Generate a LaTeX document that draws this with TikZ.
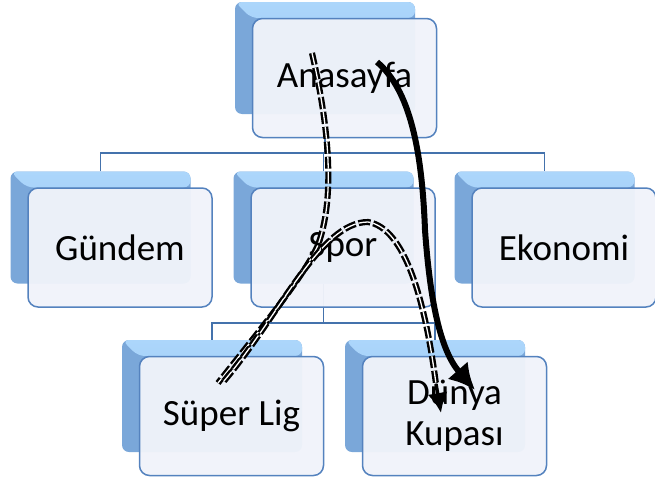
\documentclass[tikz,border=0pt]{standalone}
\usepackage{fontspec}
\setmainfont{Carlito}
\usetikzlibrary{arrows.meta}
\definecolor{backdark}{RGB}{122,167,217}
\definecolor{backlightA}{RGB}{172,214,251}
\definecolor{backlightB}{RGB}{150,197,243}
\definecolor{frontfill}{RGB}{240,243,250}
\definecolor{frontdraw}{RGB}{84,130,190}
\definecolor{conncol}{RGB}{68,114,172}
\begin{document}
\begin{tikzpicture}[x=1pt,y=-1pt,
  backbox/.style={rounded corners=7pt, fill=backdark, minimum width=180pt, minimum height=112pt, inner sep=0pt,
    path picture={\shade[top color=backlightA, bottom color=backlightB]
      (path picture bounding box.north west) -- (path picture bounding box.north east)
      -- ([yshift=-16pt]path picture bounding box.north east)
      -- ([xshift=16pt,yshift=-16pt]path picture bounding box.north west) -- cycle;}},
  frontbox/.style={rounded corners=10pt, draw=frontdraw, line width=1.5pt, fill=frontfill, fill opacity=0.96, text opacity=1,
    minimum width=184pt, minimum height=119pt, inner sep=0pt, align=center,
    font=\fontsize{37}{41}\selectfont},
  conn/.style={draw=conncol, line width=1.8pt},
  ddash/.style={draw=black, double=white, line width=2.4pt, double distance=1.3pt, dash pattern=on 12pt off 3pt},
  solidarrow/.style={draw=black, line width=6pt, -{Latex[length=26pt,width=27pt]}},
  tipstyle/.style={draw=black, line width=3.5pt, -{Latex[length=20pt,width=20pt]}}
]
\useasboundingbox (0,0) rectangle (655,482);
% back boxes
\node[backbox] (anaB) at (325,58) {};
\node[backbox] (gunB) at (100.5,227.5) {};
\node[backbox] (sporB) at (323.5,227.5) {};
\node[backbox] (ekoB) at (544.5,227.5) {};
\node[backbox] (superB) at (212,396) {};
\node[backbox] (dunyaB) at (435,396) {};
% connectors
\coordinate (toprail) at (0,153);
\coordinate (midrail) at (0,323);
\node[frontbox] (anaF) at (344.5,78) {Anasayfa};
\draw[conn] (anaB.center |- anaF.south) -- (anaB.center |- toprail);
\draw[conn] (gunB.north) -- (gunB.center |- toprail) -| (ekoB.north);
\draw[conn] (sporB.north) -- (sporB.center |- toprail);
\draw[conn] (sporB.south) -- (sporB.center |- midrail);
\draw[conn] (superB.north) -- (superB.center |- midrail) -| (dunyaB.north);
% front boxes
\node[frontbox] (gunF) at (120,247.5) {Gündem};
\node[frontbox] (sporF) at (343,247.5) {Spor};
\node[frontbox] (ekoF) at (564,247.5) {Ekonomi};
\node[frontbox] (superF) at (231.5,416) {Süper Lig};
\node[frontbox] (dunyaF) at (454.5,416) {Dünya\\Kupası};
% path coordinates
\coordinate (p2s) at (312,53);
\coordinate (p2m) at (318,245);
\coordinate (p2e) at (218,383);
\coordinate (p3s) at (224,381);
\coordinate (p3m) at (368,222);
\coordinate (p3a) at (436,384);
\coordinate (p3e) at (441,413);
\coordinate (p1s) at (377,62);
\coordinate (p1m) at (425,230);
\coordinate (p1e) at (475,390);
% curves
\draw[ddash] (p2s) .. controls (325,110) and (338,190) .. (p2m)
  .. controls (305,275) and (260,330) .. (p2e);
\draw[ddash] (p3s) .. controls (280,315) and (320,222) .. (p3m)
  .. controls (405,228) and (425,300) .. (p3a);
\draw[tipstyle] (p3a) -- (p3e);
\draw[solidarrow] (p1s) .. controls (410,90) and (422,150) .. (p1m)
  .. controls (430,300) and (440,350) .. (p1e);
\end{tikzpicture}
\end{document}
